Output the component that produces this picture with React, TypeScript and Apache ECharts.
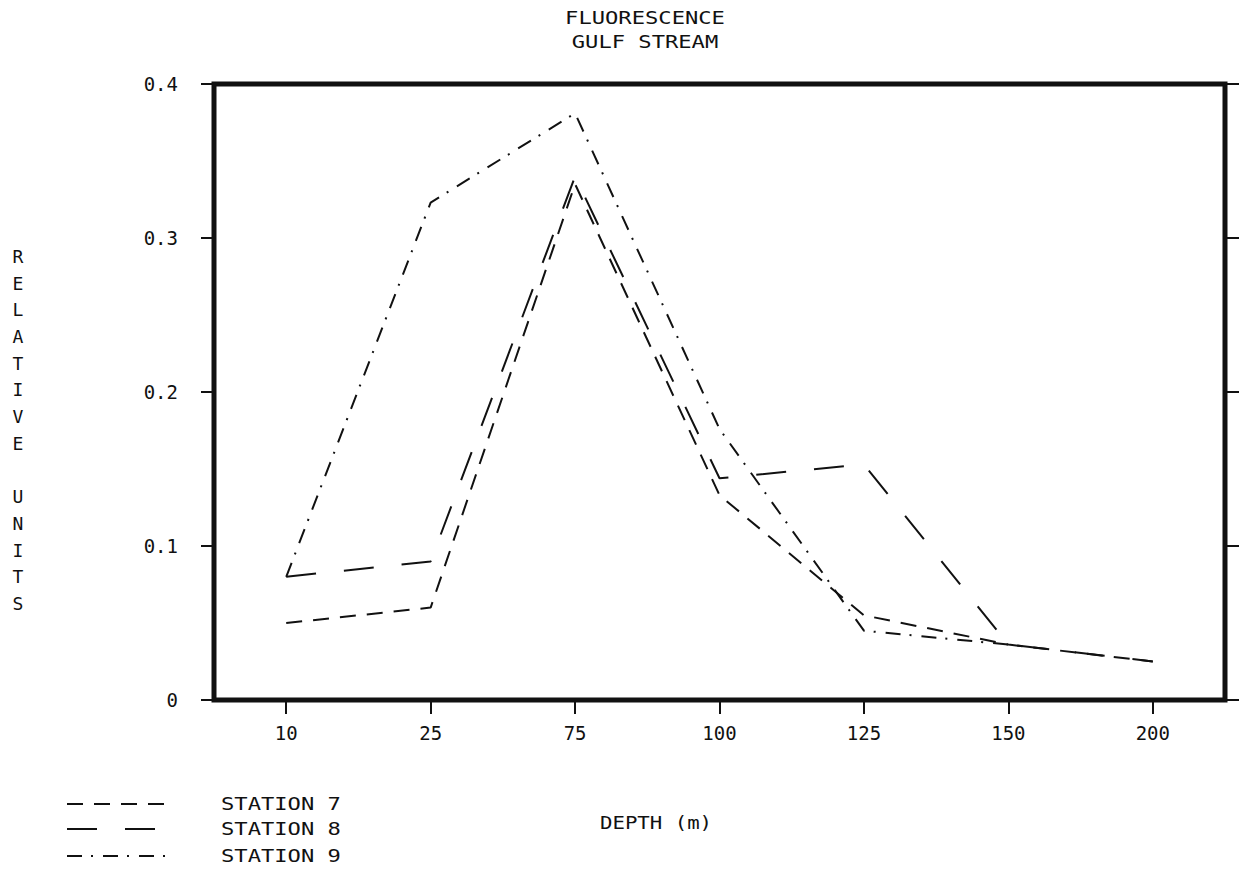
import React, { useEffect, useRef } from "react";
import * as echarts from "echarts";

const titleLines = ["FLUORESCENCE", "GULF STREAM"];
const depthLabels = ["10", "25", "75", "100", "125", "150", "200"];
const station7 = [0.05, 0.06, 0.335, 0.133, 0.055, 0.036, 0.025];
const station8 = [0.08, 0.09, 0.34, 0.144, 0.153, 0.036, 0.025];
const station9 = [0.08, 0.323, 0.381, 0.176, 0.045, 0.036, null];
const yTicks = [0, 0.1, 0.2, 0.3, 0.4];
const seriesNames = ["STATION 7", "STATION 8", "STATION 9"];
const xAxisName = "DEPTH (m)";
const yAxisName = "RELATIVE UNITS";

const FONT = "'DejaVu Sans Mono', monospace";
const INK = "#111";
const dashes = [[16, 11], [30, 28], [15, 9, 2, 10]];

export default function App() {
  const ref = useRef<HTMLDivElement>(null);
  useEffect(() => {
    document.body.style.margin = "0";
    const chart = echarts.init(ref.current!, null, { renderer: "svg" });
    const data = [station7, station8, station9];
    const legendX0 = 67;
    const legendX1 = 168;
    const legendYs = [804, 829, 856];
    const yLetters = yAxisName.split("").join("\n");
    chart.setOption({
      animation: false,
      backgroundColor: "#fff",
      grid: {
        left: 214,
        right: 22,
        top: 84,
        bottom: 169,
        show: true,
        borderColor: INK,
        borderWidth: 5,
        containLabel: false,
      },
      xAxis: {
        type: "category",
        data: depthLabels,
        boundaryGap: true,
        axisLine: { show: false },
        axisTick: { show: true, alignWithLabel: true, length: 14, lineStyle: { color: INK, width: 2 } },
        axisLabel: { color: INK, fontFamily: FONT, fontSize: 19, margin: 23 },
        splitLine: { show: false },
      },
      yAxis: [
        {
          type: "value",
          min: yTicks[0],
          max: yTicks[yTicks.length - 1],
          interval: 0.1,
          axisLine: { show: false },
          axisTick: { show: true, length: 13, lineStyle: { color: INK, width: 2 } },
          axisLabel: {
            color: INK,
            fontFamily: FONT,
            fontSize: 19,
            margin: 36,
            formatter: (v: number) => (v === 0 ? "0" : v.toFixed(1)),
          },
          splitLine: { show: false },
        },
        {
          type: "value",
          position: "right",
          min: yTicks[0],
          max: yTicks[yTicks.length - 1],
          interval: 0.1,
          axisLine: { show: false },
          axisTick: { show: true, length: 14, lineStyle: { color: INK, width: 2 } },
          axisLabel: { show: false },
          splitLine: { show: false },
        },
      ],
      series: data.map((d, i) => ({
        name: seriesNames[i],
        type: "line",
        data: d,
        symbol: "none",
        connectNulls: false,
        lineStyle: { color: INK, width: 2, type: dashes[i] },
      })),
      graphic: [
        ...titleLines.map((t, i) => ({
          type: "text",
          x: 645,
          y: 18 + i * 24,
          scaleX: 1.23,
          style: { text: t, fill: INK, font: `18px ${FONT}`, textAlign: "center", textVerticalAlign: "middle" },
        })),
        {
          type: "text",
          x: 18,
          y: 243,
          style: {
            text: yLetters,
            fill: INK,
            font: `18px ${FONT}`,
            lineHeight: 26.7,
            textAlign: "center",
            textVerticalAlign: "top",
          },
        },
        {
          type: "text",
          x: 656,
          y: 823,
          scaleX: 1.15,
          style: { text: xAxisName, fill: INK, font: `18px ${FONT}`, textAlign: "center", textVerticalAlign: "middle" },
        },
        ...seriesNames.flatMap((n, i) => [
          {
            type: "line",
            shape: { x1: legendX0, y1: legendYs[i], x2: legendX1, y2: legendYs[i] },
            style: { stroke: INK, lineWidth: 2, lineDash: dashes[i] },
          },
          {
            type: "text",
            x: 221,
            y: legendYs[i],
            scaleX: 1.23,
            style: { text: n, fill: INK, font: `18px ${FONT}`, textAlign: "left", textVerticalAlign: "middle" },
          },
        ]),
      ],
    });
    return () => chart.dispose();
  }, []);
  return <div ref={ref} style={{ width: 1247, height: 869 }} />;
}
